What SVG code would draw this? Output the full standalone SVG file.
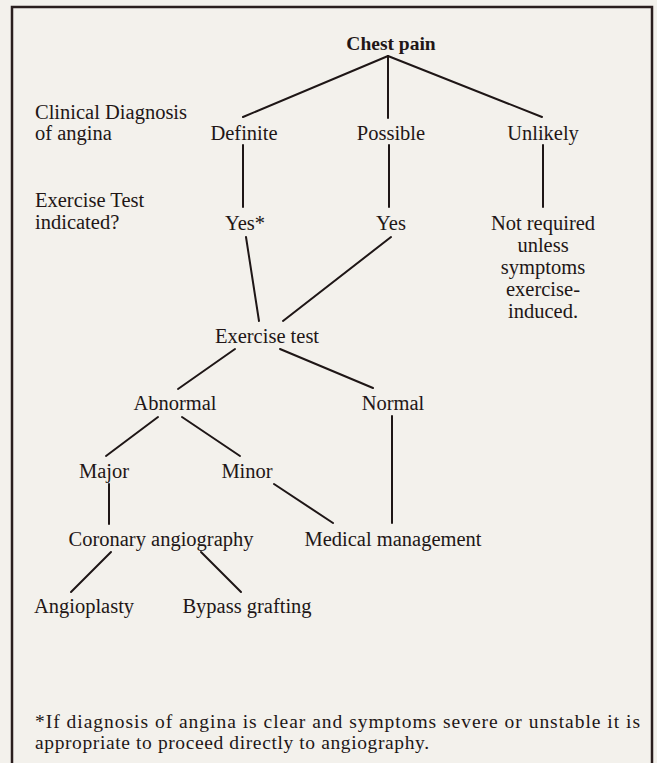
<svg xmlns="http://www.w3.org/2000/svg" width="657" height="763" viewBox="0 0 657 763">
<style>
text{font-family:"Liberation Serif","Times New Roman",serif;font-size:20.5px;fill:#221616}
.c{text-anchor:middle}
.b{font-weight:bold;font-size:19.5px}
.f{font-size:19.5px}
#connectors line{stroke:#1e1616;stroke-width:2;stroke-linecap:round}
</style>
<rect x="0" y="0" width="657" height="763" fill="#f3f1ec"/>
<rect x="12" y="7" width="640" height="770" fill="none" stroke="#2a1e1e" stroke-width="2.5"/>
<g id="connectors">
<line x1="388" y1="56" x2="243" y2="117"/>
<line x1="388" y1="56" x2="388" y2="118"/>
<line x1="388" y1="56" x2="542" y2="117"/>
<line x1="243" y1="145" x2="243" y2="207"/>
<line x1="389" y1="145" x2="389" y2="207"/>
<line x1="543" y1="145" x2="543" y2="207"/>
<line x1="246" y1="237" x2="259" y2="321"/>
<line x1="391" y1="237" x2="283" y2="321"/>
<line x1="235" y1="349" x2="178" y2="389"/>
<line x1="280" y1="349" x2="373" y2="388"/>
<line x1="158" y1="417" x2="106" y2="456"/>
<line x1="182" y1="417" x2="240" y2="456"/>
<line x1="109" y1="484" x2="109" y2="524"/>
<line x1="274" y1="484" x2="333" y2="523"/>
<line x1="392" y1="416" x2="392" y2="523"/>
<line x1="111" y1="552" x2="71" y2="592"/>
<line x1="201" y1="552" x2="241" y2="592"/>
</g>
<g id="chest-pain"><text class="c b" x="391" y="50">Chest pain</text></g>
<g id="label-clinical"><text x="35" y="119">Clinical Diagnosis</text><text x="35" y="140">of angina</text></g>
<g id="definite"><text class="c" x="244" y="140">Definite</text></g>
<g id="possible"><text class="c" x="391" y="140">Possible</text></g>
<g id="unlikely"><text class="c" x="543" y="140">Unlikely</text></g>
<g id="label-exercise"><text x="35" y="207">Exercise Test</text><text x="35" y="229">indicated?</text></g>
<g id="yes-star"><text class="c" x="245" y="230">Yes*</text></g>
<g id="yes"><text class="c" x="391" y="230">Yes</text></g>
<g id="not-required"><text class="c" x="543" y="230">Not required</text><text class="c" x="543" y="252">unless</text><text class="c" x="543" y="274">symptoms</text><text class="c" x="543" y="296">exercise-</text><text class="c" x="543" y="318">induced.</text></g>
<g id="exercise-test"><text class="c" x="267" y="343">Exercise test</text></g>
<g id="abnormal"><text class="c" x="175" y="410">Abnormal</text></g>
<g id="normal"><text class="c" x="393" y="410">Normal</text></g>
<g id="major"><text class="c" x="104" y="478">Major</text></g>
<g id="minor"><text class="c" x="247" y="478">Minor</text></g>
<g id="coronary"><text class="c" x="161" y="546">Coronary angiography</text></g>
<g id="medical"><text class="c" x="393" y="546">Medical management</text></g>
<g id="angioplasty"><text class="c" x="84" y="613">Angioplasty</text></g>
<g id="bypass"><text class="c" x="247" y="613">Bypass grafting</text></g>
<g id="footnote"><text class="f" x="35" y="728" textLength="605" lengthAdjust="spacing">*If diagnosis of angina is clear and symptoms severe or unstable it is</text><text class="f" x="35" y="749" textLength="394" lengthAdjust="spacing">appropriate to proceed directly to angiography.</text></g>
</svg>
